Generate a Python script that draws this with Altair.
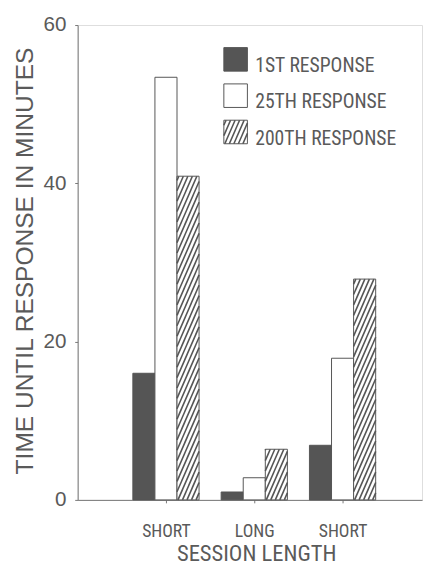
import json
import numpy as np
import pandas as pd
import altair as alt

# ---------------- data ----------------
GROUPS = ["SHORT", "LONG", "SHORT"]
SERIES = ["1ST RESPONSE", "25TH RESPONSE", "200TH RESPONSE"]
FIRST = [16.0, 1.0, 6.9]
TWENTYFIFTH = [53.4, 2.8, 17.9]
TWOHUNDREDTH = [40.9, 6.4, 27.9]
Y_TICKS = [0, 20, 40, 60]

# ---------------- layout / style ----------------
PLOT_W, PLOT_H = 351, 484
X_MAX, Y_MAX = 3.9, 60
KX, KY = PLOT_W / X_MAX, PLOT_H / Y_MAX
BAR_W = 0.25
FILLS = ["#555555", "#ffffff", "#ffffff"]
INK = "#555555"
TXT = "#5a5a5a"
AX = "#777777"
NARROW = "Roboto Condensed, DejaVu Sans Condensed, Liberation Sans"
REG = "Liberation Sans"
HATCH_PERIOD = 4.6   # px
HATCH_SLOPE = 2.3    # px up per px right

values = [FIRST, TWENTYFIFTH, TWOHUNDREDTH]
rows = []
for gi, g in enumerate(GROUPS):
    centre = gi + 1
    for si, s in enumerate(SERIES):
        x0 = centre + (si - 1) * BAR_W - BAR_W / 2
        rows.append({"group": g, "series": s, "x0": x0, "x1": x0 + BAR_W,
                     "y0": 0.0, "v": values[si][gi]})
bars = pd.DataFrame(rows)


def hatch(x0, x1, y0, y1):
    """diagonal stripes inside a data-space rectangle"""
    w = (x1 - x0) * KX
    h = (y1 - y0) * KY
    segs = []
    k0 = int(np.floor(-h / HATCH_SLOPE / HATCH_PERIOD)) - 1
    k1 = int(np.ceil(w / HATCH_PERIOD)) + 1
    for k in range(k0, k1 + 1):
        c = k * HATCH_PERIOD + 1.0
        lo = max(0.0, -c * HATCH_SLOPE)
        hi = min(h, (w - c) * HATCH_SLOPE)
        if hi - lo < 0.5:
            continue
        segs.append({"hx0": x0 + (c + lo / HATCH_SLOPE) / KX, "hy0": y0 + lo / KY,
                     "hx1": x0 + (c + hi / HATCH_SLOPE) / KX, "hy1": y0 + hi / KY})
    return segs


hrows = []
for _, r in bars[bars.series == SERIES[2]].iterrows():
    hrows += hatch(r.x0, r.x1, 0.0, r.v)

# legend (pixel layout relative to plot, converted to data space)
LEG_X0, LEG_SIZE, LEG_Y0, LEG_STEP, LEG_TX, LEG_BASE = 149, 24, 23, 37, 181, 25
leg = []
for i, s in enumerate(SERIES):
    top = LEG_Y0 + i * LEG_STEP
    leg.append({"series": s,
                "x0": LEG_X0 / KX, "x1": (LEG_X0 + LEG_SIZE) / KX,
                "y0": Y_MAX - (top + LEG_SIZE) / KY, "v": Y_MAX - top / KY,
                "tx": LEG_TX / KX, "ty": Y_MAX - (top + LEG_BASE) / KY})
legdf = pd.DataFrame(leg)
lr = legdf.iloc[2]
hrows += hatch(lr.x0, lr.x1, lr.y0, lr.v)
hatchdf = pd.DataFrame(hrows)

label_expr = "%s[datum.value - 1]" % json.dumps(GROUPS).replace('"', "'")

xscale = alt.Scale(domain=[0, X_MAX], nice=False, zero=False)
yscale = alt.Scale(domain=[0, Y_MAX], nice=False)
cscale = alt.Scale(domain=SERIES, range=FILLS)

xaxis = alt.Axis(values=[1, 2, 3], labelExpr=label_expr, title="SESSION LENGTH",
                 grid=False, tickSize=3, labelPadding=20, labelFont=NARROW,
                 labelFontSize=18, labelColor=TXT, titleFont=NARROW, titleFontSize=23,
                 titleFontWeight="normal", titleColor=TXT, titleBaseline="top",
                 titleY=44, titleX=182, domainColor=AX, tickColor=AX)
yaxis = alt.Axis(values=Y_TICKS, title="TIME UNTIL RESPONSE IN MINUTES", grid=False,
                 tickSize=3, labelPadding=9, labelFont=REG, labelFontSize=21,
                 labelColor=TXT, titleFont=REG, titleFontSize=25,
                 titleFontWeight="normal", titleColor=TXT, titleAngle=-90,
                 titleBaseline="middle", titleAlign="center", titleX=-54, titleY=240,
                 domainColor=AX, tickColor=AX)

bar_layer = alt.Chart(bars).mark_rect(stroke=INK, strokeWidth=1).encode(
    x=alt.X("x0:Q", scale=xscale, axis=xaxis),
    x2="x1:Q",
    y=alt.Y("y0:Q", scale=yscale, axis=yaxis),
    y2="v:Q",
    fill=alt.Fill("series:N", scale=cscale, legend=None),
)

leg_rect = alt.Chart(legdf).mark_rect(stroke=INK, strokeWidth=1).encode(
    x="x0:Q", x2="x1:Q", y="y0:Q", y2="v:Q",
    fill=alt.Fill("series:N", scale=cscale, legend=None),
)

hatch_layer = alt.Chart(hatchdf).mark_rule(color=INK, strokeWidth=1.6).encode(
    x="hx0:Q", y="hy0:Q", x2="hx1:Q", y2="hy1:Q")

leg_text = alt.Chart(legdf).mark_text(align="left", baseline="alphabetic", font=NARROW,
                                      fontSize=20, color=TXT).encode(
    x="tx:Q", y="ty:Q", text="series:N")

chart = alt.layer(bar_layer, leg_rect, hatch_layer, leg_text).properties(
    width=PLOT_W, height=PLOT_H,
    autosize=alt.AutoSizeParams(type="none"),
    padding={"left": 71, "top": 12, "right": 2, "bottom": 62},
).configure_view(stroke=None).configure(background="white")

chart.save("out.html", embed_options={"renderer": "svg", "actions": False})
